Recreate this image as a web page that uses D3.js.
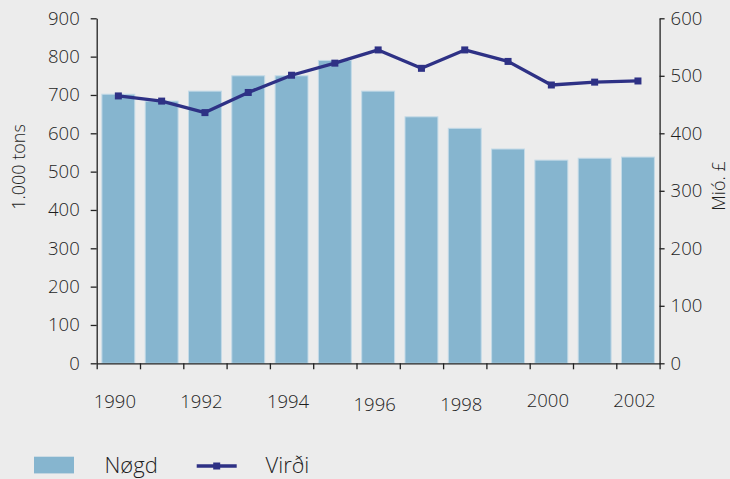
<!DOCTYPE html>
<html>
<head>
<meta charset="utf-8">
<script src="https://cdn.jsdelivr.net/npm/d3@7"></script>
<style>
  html, body { margin: 0; padding: 0; background: #ececec; }
  svg { display: block; }
  text { font-family: "Open Sans", "Noto Sans", sans-serif; fill: #1e1e1e; font-weight: 300; }
</style>
</head>
<body>
<svg id="chart"></svg>
<script>
// data
const years = [1990, 1991, 1992, 1993, 1994, 1995, 1996, 1997, 1998, 1999, 2000, 2001, 2002];
const nogd = [702, 684, 710, 750, 750, 790, 710, 643, 613, 559, 530, 535, 538];   // 1.000 tons
const virdi = [465, 456, 436, 471, 501, 522, 545, 513, 545, 525, 484, 489, 491]; // Mió. £
const leftTicks = [0, 100, 200, 300, 400, 500, 600, 700, 800, 900];
const rightTicks = [0, 100, 200, 300, 400, 500, 600];
const yearLabels = [1990, 1992, 1994, 1996, 1998, 2000, 2002];

const width = 730;
const height = 479;
const plot = { left: 96.7, right: 659.6, top: 18.3, bottom: 363.3 };

const svg = d3.select("#chart")
    .attr("width", width)
    .attr("height", height);

const x = d3.scaleBand()
    .domain(years)
    .range([plot.left, plot.right])
    .padding(0);

const yLeft = d3.scaleLinear().domain([0, 900]).range([plot.bottom, plot.top]);
const yRight = d3.scaleLinear().domain([0, 600]).range([plot.bottom, plot.top]);

// bars
const barW = x.bandwidth() * 0.76;
svg.append("g")
    .selectAll("rect")
    .data(years)
    .enter()
    .append("rect")
    .attr("x", (d) => x(d) + (x.bandwidth() - barW) / 2)
    .attr("y", (d, i) => yLeft(nogd[i]))
    .attr("width", barW)
    .attr("height", (d, i) => plot.bottom - yLeft(nogd[i]))
    .attr("fill", "#86b5cf")
    .attr("stroke", "#c3dae7")
    .attr("stroke-width", 1);

// axes
const axisColor = "#222";
const fontSize = "18.5px";

const leftAxis = svg.append("g")
    .attr("transform", "translate(" + plot.left + ",0)")
    .call(d3.axisLeft(yLeft).tickValues(leftTicks).tickSize(6).tickSizeOuter(0).tickPadding(11));

const rightAxis = svg.append("g")
    .attr("transform", "translate(" + plot.right + ",0)")
    .call(d3.axisRight(yRight).tickValues(rightTicks).tickSize(5).tickSizeOuter(0).tickPadding(6));

// x axis: ticks sit on the band edges
const xEdges = d3.scaleLinear().domain([0, years.length]).range([plot.left, plot.right]);
const bottomAxis = svg.append("g")
    .attr("transform", "translate(0," + plot.bottom + ")")
    .call(d3.axisBottom(xEdges).tickValues(d3.range(years.length + 1))
        .tickSize(6).tickSizeOuter(0).tickFormat(""));

[leftAxis, rightAxis, bottomAxis].forEach((g) => {
    g.select(".domain").attr("stroke", axisColor).attr("stroke-width", 1.3);
    g.selectAll(".tick line").attr("stroke", axisColor).attr("stroke-width", 1.3);
    g.selectAll(".tick text")
        .attr("font-size", fontSize)
        .attr("font-family", "'Open Sans', 'Noto Sans', sans-serif")
        .attr("font-weight", 300)
        .attr("fill", "#1e1e1e");
});

// year labels (slightly uneven in the original)
const labelShift = { 1996: 3, 1998: 3, 2000: -1.5, 2002: -1.5 };
svg.append("g")
    .selectAll("text")
    .data(yearLabels)
    .enter()
    .append("text")
    .attr("x", (d) => x(d) + x.bandwidth() / 2 - 3.5)
    .attr("y", (d) => 408 + (labelShift[d] || 0))
    .attr("text-anchor", "middle")
    .attr("font-size", fontSize)
    .text((d) => d);

// line
const line = d3.line()
    .x((d, i) => x(years[i]) + x.bandwidth() / 2)
    .y((d) => yRight(d));

const lineColor = "#2e3185";
svg.append("path")
    .datum(virdi)
    .attr("d", line)
    .attr("fill", "none")
    .attr("stroke", lineColor)
    .attr("stroke-width", 3.3)
    .attr("stroke-linejoin", "round");

const mk = 7;
svg.append("g")
    .selectAll("rect")
    .data(virdi)
    .enter()
    .append("rect")
    .attr("x", (d, i) => x(years[i]) + x.bandwidth() / 2 - mk / 2)
    .attr("y", (d) => yRight(d) - mk / 2)
    .attr("width", mk)
    .attr("height", mk)
    .attr("fill", lineColor);

// axis titles
svg.append("text")
    .attr("transform", "translate(25,167) rotate(-90)")
    .attr("text-anchor", "middle")
    .attr("font-size", "18px")
    .text("1.000 tons");

svg.append("text")
    .attr("transform", "translate(725,186) rotate(-90)")
    .attr("text-anchor", "middle")
    .attr("font-size", "18px")
    .text("Mió. £");

// legend
const legend = svg.append("g");
legend.append("rect")
    .attr("x", 34).attr("y", 456.7)
    .attr("width", 40).attr("height", 16.7)
    .attr("fill", "#86b5cf");
legend.append("text")
    .attr("x", 104.5).attr("y", 473)
    .attr("font-size", "22px")
    .text("Nøgd");
legend.append("line")
    .attr("x1", 196.7).attr("x2", 236.7)
    .attr("y1", 466).attr("y2", 466)
    .attr("stroke", lineColor).attr("stroke-width", 3.3);
legend.append("rect")
    .attr("x", 216.7 - mk / 2).attr("y", 466 - mk / 2)
    .attr("width", mk).attr("height", mk)
    .attr("fill", lineColor);
legend.append("text")
    .attr("x", 265.5).attr("y", 473)
    .attr("font-size", "22px")
    .text("Virði");
</script>
</body>
</html>
